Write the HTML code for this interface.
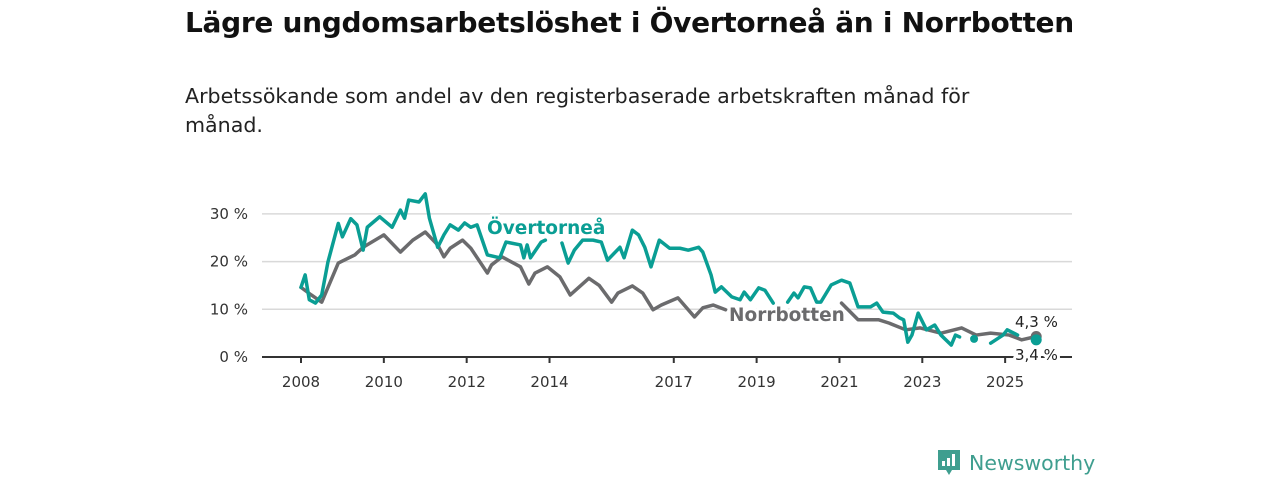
<!DOCTYPE html>
<html><head><meta charset="utf-8">
<style>
body{margin:0;background:#fff;font-family:"Liberation Sans","DejaVu Sans",sans-serif;}
#wrap{position:relative;width:1280px;height:480px;overflow:hidden;}
h1{position:absolute;left:185px;top:6px;margin:0;font-size:28px;font-weight:bold;color:#111;font-family:"DejaVu Sans","Liberation Sans",sans-serif;letter-spacing:-0.3px}
.sub{position:absolute;left:185px;top:82px;width:850px;font-size:20.6px;line-height:29px;color:#222;font-family:"DejaVu Sans","Liberation Sans",sans-serif}
svg{position:absolute;left:0;top:0}
</style></head><body>
<div id="wrap">
<h1>Lägre ungdomsarbetslöshet i Övertorneå än i Norrbotten</h1>
<div class="sub">Arbetssökande som andel av den registerbaserade arbetskraften månad för månad.</div>
<svg id="chart" width="1280" height="480"></svg>
</div>
<script>
const yTicks=[0,10,20,30];
const yTickLabels=["0 %","10 %","20 %","30 %"];
const xTicks=[2008,2010,2012,2014,2017,2019,2021,2023,2025];
const nbDates=[2008,2008.25,2008.5,2008.9,2009.3,2009.5,2010,2010.4,2010.7,2011,2011.3,2011.45,2011.6,2011.9,2012.1,2012.5,2012.6,2012.85,2013.3,2013.5,2013.65,2013.95,2014.25,2014.5,2014.95,2015.2,2015.5,2015.65,2016,2016.25,2016.5,2016.7,2017.1,2017.5,2017.7,2017.95,2018.25,2018.8,2019.4,2020,2020.6,2021.05,2021.45,2021.95,2022.2,2022.6,2022.95,2023.45,2023.95,2024.3,2024.65,2025.1,2025.4,2025.75];
const nbValues=[14.6,13,11.5,19.7,21.4,23,25.6,22,24.5,26.2,23.5,21,22.8,24.5,22.8,17.6,19.3,21,18.9,15.3,17.6,18.9,16.8,13,16.5,15,11.5,13.4,14.9,13.4,9.9,10.9,12.4,8.4,10.3,10.9,9.9,null,null,null,null,11.3,7.8,7.8,7.1,5.7,6.1,5,6.1,4.6,5,4.6,3.6,4.3];
const otDates=[2008,2008.1,2008.2,2008.35,2008.5,2008.65,2008.9,2009,2009.2,2009.35,2009.5,2009.6,2009.9,2010.2,2010.4,2010.5,2010.6,2010.85,2011,2011.1,2011.3,2011.45,2011.6,2011.8,2011.95,2012.1,2012.25,2012.5,2012.8,2012.95,2013.3,2013.38,2013.46,2013.54,2013.8,2013.9,2013.98,2014.3,2014.45,2014.6,2014.8,2015.05,2015.25,2015.4,2015.7,2015.8,2016,2016.15,2016.3,2016.45,2016.65,2016.9,2017.15,2017.35,2017.6,2017.7,2017.9,2018,2018.15,2018.4,2018.6,2018.7,2018.85,2019.05,2019.2,2019.4,2019.55,2019.75,2019.9,2020,2020.15,2020.3,2020.45,2020.55,2020.8,2021.05,2021.25,2021.45,2021.75,2021.9,2022.05,2022.3,2022.45,2022.55,2022.65,2022.75,2022.9,2023.1,2023.3,2023.45,2023.7,2023.8,2023.9,2024.0,2024.25,2024.4,2024.65,2024.95,2025.05,2025.3,2025.45,2025.7,2025.75];
const otValues=[14.6,17.2,12,11.3,13,19.9,28,25.2,29,27.7,22.4,27.2,29.4,27.2,30.8,29.1,32.9,32.5,34.2,29.1,23,25.6,27.7,26.6,28.1,27.2,27.7,21.4,20.8,24.1,23.5,20.8,23.5,20.8,24.1,24.5,null,23.9,19.7,22.4,24.5,24.5,24.1,20.3,23,20.8,26.6,25.6,23,18.9,24.5,22.8,22.8,22.4,23,22,17.2,13.6,14.7,12.6,12,13.6,12,14.5,14,11.3,null,11.5,13.4,12.4,14.7,14.5,11.5,11.5,15.1,16.1,15.5,10.5,10.5,11.3,9.4,9.2,8.2,7.8,3.1,4.6,9.2,5.7,6.7,4.6,2.5,4.6,4.2,null,3.8,null,2.9,4.6,5.7,4.6,null,3.6,3.6];

const svg=document.getElementById('chart');
const NS='http://www.w3.org/2000/svg';
const x=v=>301+(v-2008)*41.42;
const y=v=>357-v*4.77;
function mk(tag,attrs,parent){const e=document.createElementNS(NS,tag);for(const k in attrs)e.setAttribute(k,attrs[k]);(parent||svg).appendChild(e);return e;}
const F='"DejaVu Sans","Liberation Sans",sans-serif';
yTicks.forEach((t,i)=>{
  if(t>0){const g=mk('line',{x1:262,x2:1072,y1:y(t),y2:y(t),stroke:'#d9d9d9','stroke-width':1.5});
  
  }
  const l=mk('text',{x:248,y:y(t)+5,'text-anchor':'end','font-size':15,fill:'#333','font-family':F});
  l.textContent=yTickLabels[i];
  
  
});
const ax=mk('line',{x1:262,x2:1072,y1:357,y2:357,stroke:'#333','stroke-width':2});


xTicks.forEach(t=>{
  const tk=mk('line',{x1:x(t),x2:x(t),y1:357,y2:363,stroke:'#333','stroke-width':2});
  
  
  const l=mk('text',{x:x(t),y:387,'text-anchor':'middle','font-size':15,fill:'#333','font-family':F});
  l.textContent=t;
  
  
});
function paths(d,v){const segs=[];let cur=[];d.forEach((dt,i)=>{if(v[i]==null){if(cur.length)segs.push(cur);cur=[];}else cur.push([x(dt),y(v[i])]);});if(cur.length)segs.push(cur);return segs;}
function draw(d,v,col,name){
  paths(d,v).forEach(s=>{
    if(s.length==1){const c=mk('circle',{cx:s[0][0],cy:s[0][1],r:4,fill:col});
      
      return;}
    const p=mk('path',{d:'M'+s.map(q=>q.join(',')).join('L'),fill:'none',stroke:col,'stroke-width':3.5,'stroke-linejoin':'round','stroke-linecap':'round'});
    
    
  });
}
draw(nbDates,nbValues,'#6b6b6d','norrbotten');
draw(otDates,otValues,'#0a9e94','overtornea');
const e1=mk('circle',{cx:x(nbDates[nbDates.length-1]),cy:y(nbValues[nbValues.length-1]),r:5.5,fill:'#6b6b6d'});


const e2=mk('circle',{cx:x(otDates[otDates.length-1]),cy:y(otValues[otValues.length-1]),r:5.5,fill:'#0a9e94'});


function label(txt,xx,yy,col,size,bold,name,anchor){
  const t=mk('text',{x:xx,y:yy,'font-size':size,'font-weight':bold?'bold':'normal',fill:col,stroke:'#fff','stroke-width':6,'paint-order':'stroke','stroke-linejoin':'round','font-family':F,'text-anchor':anchor||'start'});
  t.textContent=txt;
  
  
}
label('Övertorneå',487,234,'#0a9e94',18.5,true,'overtornea-label');
label('Norrbotten',729,321,'#6b6b6d',18.5,true,'norrbotten-label');
label('4,3 %',1015,327,'#222',15,false,'norrbotten-end-value');
label('3,4 %',1015,360,'#222',15,false,'overtornea-end-value');
const lg=mk('g',{});


mk('path',{d:'M938,450h22v20h-8l-3,5l-3,-5h-8z',fill:'#3f9e8f'},lg);
mk('rect',{x:942,y:461,width:3,height:5,fill:'#fff'},lg);
mk('rect',{x:947,y:458,width:3,height:8,fill:'#fff'},lg);
mk('rect',{x:952,y:454,width:3,height:12,fill:'#fff'},lg);
const lt=mk('text',{x:969,y:470,'font-size':20.5,fill:'#3f9e8f','font-family':F},lg);
lt.textContent='Newsworthy';
</script>
</body></html>
